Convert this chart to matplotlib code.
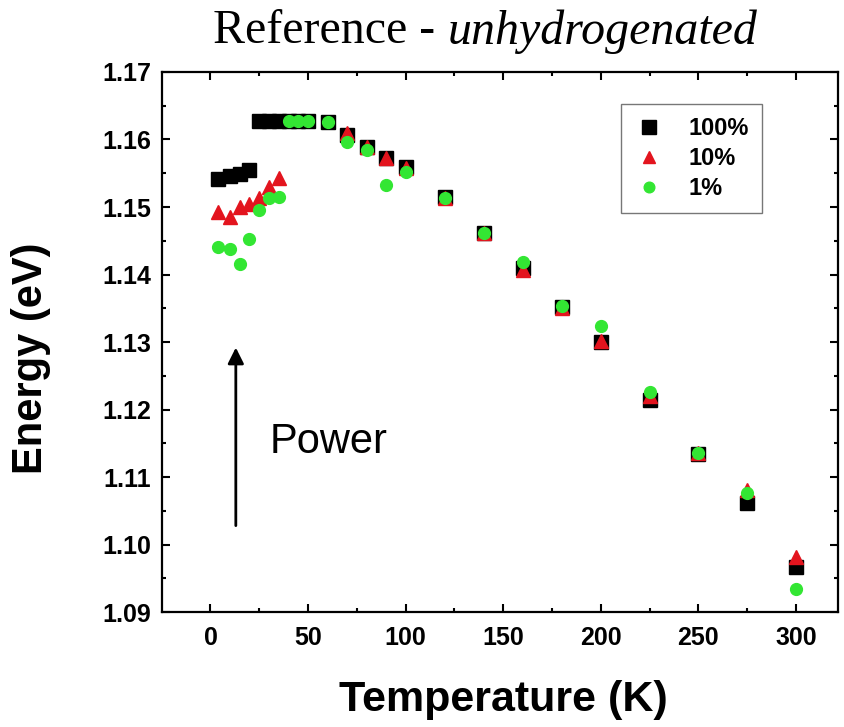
import matplotlib
matplotlib.use("Agg")
import matplotlib.pyplot as plt
from matplotlib.ticker import MultipleLocator

# ---- data ----
t_100 = [4, 10, 15, 20, 25, 30, 35, 40, 45, 50, 60, 70, 80, 90, 100,
         120, 140, 160, 180, 200, 225, 250, 275, 300]
e_100 = [1.1541, 1.1546, 1.1549, 1.1555, 1.1628, 1.1628, 1.1628, 1.1628, 1.1628, 1.1628,
         1.1626, 1.1607, 1.1589, 1.1572, 1.1560,
         1.1515, 1.1462, 1.1410, 1.1352, 1.1300, 1.1214, 1.1134, 1.1061, 1.0967]

t_10 = [4, 10, 15, 20, 25, 30, 35, 70, 80, 90, 100,
        120, 140, 160, 180, 200, 225, 250, 275, 300]
e_10 = [1.1492, 1.1485, 1.1500, 1.1505, 1.1513, 1.1529, 1.1543, 1.1609, 1.1589, 1.1572, 1.1558,
        1.1513, 1.1461, 1.1407, 1.1350, 1.1302, 1.1220, 1.1135, 1.1081, 1.0982]

t_1 = [4, 10, 15, 20, 25, 30, 35, 40, 45, 50, 60, 70, 80, 90, 100,
       120, 140, 160, 180, 200, 225, 250, 275, 300]
e_1 = [1.1441, 1.1438, 1.1416, 1.1453, 1.1495, 1.1514, 1.1515, 1.1628, 1.1628, 1.1628,
       1.1626, 1.1597, 1.1585, 1.1533, 1.1552,
       1.1513, 1.1461, 1.1419, 1.1353, 1.1324, 1.1226, 1.1135, 1.1077, 1.0935]

labels = ["100%", "10%", "1%"]
x_ticks = [0, 50, 100, 150, 200, 250, 300]
y_ticks = [1.09, 1.10, 1.11, 1.12, 1.13, 1.14, 1.15, 1.16, 1.17]

fig = plt.figure(figsize=(8.44, 7.27), dpi=100)
ax = fig.add_axes([0.192, 0.158, 0.801, 0.743])

ax.plot(t_100, e_100, ls="none", marker="s", ms=10.5, color="black", label=labels[0])
ax.plot(t_10, e_10, ls="none", marker="^", ms=9.5, color="#e3141e", label=labels[1])
ax.plot(t_1, e_1, ls="none", marker="o", ms=8.5, color="#33e633", label=labels[2])

ax.set_xlim(-24.8, 321.6)
ax.set_ylim(1.09, 1.17)
ax.set_xticks(x_ticks)
ax.set_yticks(y_ticks)
ax.set_yticklabels([f"{v:.2f}" for v in y_ticks])
ax.xaxis.set_minor_locator(MultipleLocator(25))
ax.yaxis.set_minor_locator(MultipleLocator(0.005))

ax.tick_params(which="both", direction="in", top=True, right=True, width=1.5)
ax.tick_params(which="major", length=6)
ax.tick_params(which="minor", length=3)
ax.tick_params(axis="y", pad=8)
ax.tick_params(axis="x", pad=10)
for lab in ax.get_xticklabels() + ax.get_yticklabels():
    lab.set_fontfamily("Liberation Sans")
    lab.set_fontweight("bold")
    lab.set_fontsize(18)
for sp in ax.spines.values():
    sp.set_linewidth(1.6)

# axis titles placed in figure coordinates
fig.text(503 / 844, 1 - 700 / 727, "Temperature (K)", fontsize=31, fontweight="bold",
         family="Liberation Sans", ha="center", va="center")
fig.text(31 / 844, 1 - 358 / 727, "Energy (eV)", fontsize=30, fontweight="bold",
         family="Liberation Sans", ha="center", va="center", rotation=90)

leg = ax.legend(loc="upper left", bbox_to_anchor=(0.679, 0.941), frameon=True,
                fancybox=False, edgecolor="#555555", handletextpad=1.0,
                borderpad=0.55, labelspacing=0.3, handlelength=1.3,
                markerscale=0.9, borderaxespad=0,
                prop={"family": "Liberation Sans", "weight": "bold", "size": 17})
leg.get_frame().set_linewidth(1.0)

ax.annotate("", xy=(13, 1.1296), xytext=(13, 1.1024),
            arrowprops=dict(arrowstyle="-|>", color="black", lw=2,
                            mutation_scale=24))
ax.text(30.4, 1.1152, "Power", fontsize=30, family="Liberation Sans",
        va="center", ha="left")

# title: upright part + italic part, placed side by side
fig.canvas.draw()
renderer = fig.canvas.get_renderer()
t1 = fig.text(0, 0.957, "Reference - ", fontsize=34.5, family="Liberation Serif",
              ha="left", va="center")
t2 = fig.text(0, 0.957, "unhydrogenated", fontsize=34.5, family="Liberation Serif",
              style="italic", ha="left", va="center")
w1 = t1.get_window_extent(renderer).width
w2 = t2.get_window_extent(renderer).width
W = fig.get_figwidth() * fig.dpi
x0 = 485 - (w1 + w2) / 2
t1.set_x(x0 / W)
t2.set_x((x0 + w1) / W)

fig.savefig("out.png", dpi=100)
